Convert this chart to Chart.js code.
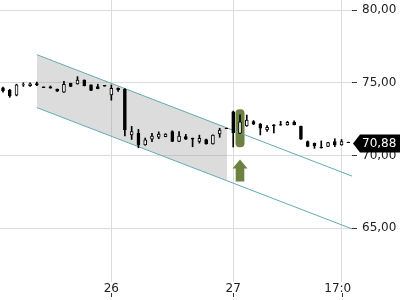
<!DOCTYPE html>
<html><head><meta charset="utf-8">
<script src="https://cdn.jsdelivr.net/npm/chart.js@4"></script>
<style>html,body{margin:0;padding:0;background:#fff}canvas{display:block}</style>
</head><body>
<canvas id="c" width="400" height="300"></canvas>
<script>
// ---- data (one candle per time slot) ----
const opens  = [74.65,74.50,74.15,74.85,74.80,74.95,74.72,74.72,74.57,74.35,74.97,74.92,75.18,74.85,74.73,74.82,74.17,74.62,74.55,71.42,71.52,70.73,71.12,71.26,71.30,71.64,70.96,71.30,71.18,70.96,71.10,70.80,71.48,71.88,73.00,71.52,72.03,72.33,72.16,71.76,72.10,72.13,72.10,72.30,72.00,70.95,70.84,70.58,70.62,70.95,70.72,70.92];
const highs  = [74.70,74.55,74.90,75.00,75.00,75.05,74.72,74.78,74.57,75.10,74.97,75.42,75.20,74.85,74.90,74.82,74.85,74.65,74.60,72.00,71.80,71.20,71.52,71.62,71.50,71.70,71.64,71.45,71.20,71.40,71.12,71.42,71.87,71.88,73.05,72.80,72.78,72.40,72.20,72.05,72.12,72.35,72.35,72.38,72.02,71.00,70.86,71.00,70.90,71.15,71.10,70.92];
const lows   = [74.35,74.00,74.10,74.75,74.75,74.80,74.66,74.63,74.40,74.33,74.73,74.90,74.78,74.45,74.58,74.76,73.80,74.40,71.35,71.10,70.53,70.70,70.95,71.15,71.28,70.95,70.95,71.10,70.60,70.85,70.78,70.78,71.25,71.84,70.58,71.50,72.00,72.12,71.41,71.65,71.55,72.08,72.08,72.10,71.10,70.60,70.49,70.50,70.60,70.60,70.70,70.88];
const closes = [74.45,74.10,74.85,74.88,74.93,74.85,74.66,74.63,74.42,74.90,74.75,75.18,74.80,74.47,74.60,74.77,74.62,74.52,71.75,71.65,70.72,71.07,71.33,71.47,71.47,70.96,71.33,71.12,71.12,71.18,70.80,71.40,71.75,71.84,71.55,72.32,72.44,72.15,71.88,71.93,72.03,72.08,72.28,72.12,71.12,70.62,70.66,70.53,70.88,70.73,70.95,70.88];

// x-axis ticks (slot index -> label)
const xTickSlots  = [16, 34, 50];
const xTickLabels = ['26', '27', '17:00'];
// y-axis ticks
const yTicks = [65, 70, 75, 80];

// trend channel (slot, price)
const channelUpper = [[5.0, 76.93], [52, 68.50]];
const channelLower = [[5.0, 73.29], [52, 64.87]];
const shadeUpper   = [[5.0, 76.93], [33.1, 71.90]];
const shadeLower   = [[5.0, 73.29], [33.1, 68.26]];

// signal marker
const markSlot = 35;
const markHigh = 73.17, markLow = 70.56;
const arrowTip = 69.73;

const FONT = 'DejaVu Sans';
const toXY = a => a.map(p => ({x: p[0], y: p[1]}));

const bodies = opens.map((o, i) => ({x: i, y: [o, closes[i]]}));
const wicks  = opens.map((o, i) => ({x: i, y: [lows[i], highs[i]]}));
const bodyFill = opens.map((o, i) => closes[i] > o ? '#ffffff' : '#000000');

const extras = {
  id: 'extras',
  beforeDatasetsDraw(chart) {
    const {ctx, chartArea: a, scales: {x, y}} = chart;
    ctx.save();
    ctx.fillStyle = '#fff';
    ctx.fillRect(a.right, a.bottom, chart.width - a.right, chart.height - a.bottom);
    ctx.strokeStyle = '#333';
    ctx.lineWidth = 1;
    x.ticks.forEach(t => {
      const px = Math.round(x.getPixelForValue(t.value)) + 0.5;
      ctx.beginPath(); ctx.moveTo(px, chart.height - 7); ctx.lineTo(px, chart.height - 3); ctx.stroke();
    });
    // highlight capsule
    const hx = x.getPixelForValue(markSlot);
    const ht = y.getPixelForValue(markHigh), hb = y.getPixelForValue(markLow);
    const w = 9, r = 4, l = hx - w / 2;
    ctx.fillStyle = '#6d8140';
    ctx.beginPath();
    ctx.moveTo(l + r, ht); ctx.lineTo(l + w - r, ht); ctx.quadraticCurveTo(l + w, ht, l + w, ht + r);
    ctx.lineTo(l + w, hb - r); ctx.quadraticCurveTo(l + w, hb, l + w - r, hb);
    ctx.lineTo(l + r, hb); ctx.quadraticCurveTo(l, hb, l, hb - r);
    ctx.lineTo(l, ht + r); ctx.quadraticCurveTo(l, ht, l + r, ht);
    ctx.closePath(); ctx.fill();
    ctx.restore();
  },
  afterDraw(chart) {
    const {ctx, chartArea: a, scales: {x, y}} = chart;
    ctx.save();
    // arrow
    const ax = x.getPixelForValue(markSlot), ay = y.getPixelForValue(arrowTip);
    ctx.fillStyle = '#6d8140';
    ctx.beginPath();
    ctx.moveTo(ax, ay); ctx.lineTo(ax + 7.5, ay + 9); ctx.lineTo(ax + 4.3, ay + 9);
    ctx.lineTo(ax + 4.3, ay + 22); ctx.lineTo(ax - 4.3, ay + 22); ctx.lineTo(ax - 4.3, ay + 9);
    ctx.lineTo(ax - 7.5, ay + 9); ctx.closePath(); ctx.fill();
    // last price tag
    const last = closes[closes.length - 1];
    const py = Math.round(y.getPixelForValue(last)) + 0.5;
    const tx = a.right + 1;
    ctx.fillStyle = '#000';
    ctx.beginPath();
    ctx.moveTo(tx, py); ctx.lineTo(tx + 7, py - 9); ctx.lineTo(chart.width, py - 9);
    ctx.lineTo(chart.width, py + 9); ctx.lineTo(tx + 7, py + 9); ctx.closePath(); ctx.fill();
    ctx.fillStyle = '#fff';
    ctx.font = '12px "' + FONT + '"';
    ctx.textBaseline = 'middle';
    ctx.textAlign = 'left';
    ctx.fillText(last.toFixed(2).replace('.', ','), a.right + 10, py + 0.5);
    ctx.restore();
  }
};

new Chart(document.getElementById('c'), {
  type: 'bar',
  data: {
    datasets: [
      {type: 'line', data: toXY(shadeUpper), borderWidth: 0, pointRadius: 0, fill: '+1', backgroundColor: 'rgba(150,150,150,0.33)', order: 4},
      {type: 'line', data: toXY(shadeLower), borderWidth: 0, pointRadius: 0, fill: false, order: 4},
      {type: 'line', data: toXY(channelUpper), borderColor: '#62abb3', borderWidth: 1, pointRadius: 0, fill: false, order: 3},
      {type: 'line', data: toXY(channelLower), borderColor: '#62abb3', borderWidth: 1, pointRadius: 0, fill: false, order: 3},
      {type: 'bar', data: wicks, backgroundColor: '#000', barThickness: 1, grouped: false, order: 2, borderWidth: 0},
      {type: 'bar', data: bodies, backgroundColor: bodyFill, borderColor: '#000', borderWidth: 1, borderSkipped: false, barThickness: 3, grouped: false, order: 1}
    ]
  },
  options: {
    responsive: false,
    animation: false,
    layout: {padding: 0},
    plugins: {legend: {display: false}, tooltip: {enabled: false}},
    scales: {
      x: {
        type: 'linear', min: -0.443, max: 51.54, offset: false,
        afterBuildTicks: s => { s.ticks = xTickSlots.map(v => ({value: v})); },
        afterFit: s => { s.height = 18; s.paddingLeft = 0; s.paddingRight = 0; },
        ticks: {callback: (v, i) => xTickLabels[i], autoSkip: false, maxRotation: 0, padding: 0,
                font: {family: FONT, size: 12}, color: '#222'},
        grid: {color: '#dcdcdc', drawTicks: false, offset: false},
        border: {display: false}
      },
      y: {
        position: 'right', min: 61.30, max: 80.69,
        afterBuildTicks: s => { s.ticks = yTicks.map(v => ({value: v})); },
        afterFit: s => { s.width = 48; s.paddingTop = 0; s.paddingBottom = 0; },
        ticks: {callback: v => v.toFixed(2).replace('.', ','), padding: 5,
                font: {family: FONT, size: 12}, color: '#222'},
        grid: {color: '#dcdcdc', tickColor: '#333', tickLength: 5},
        border: {display: false}
      }
    }
  },
  plugins: [extras]
});
</script>
</body></html>
